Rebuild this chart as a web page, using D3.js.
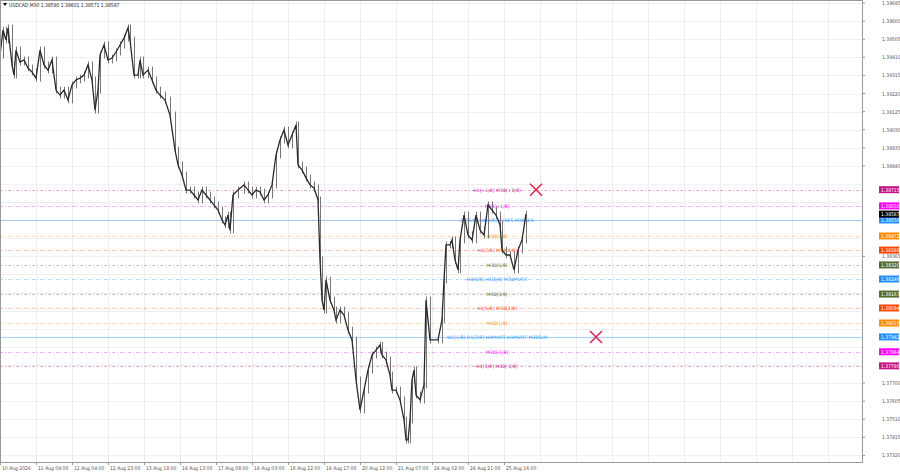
<!DOCTYPE html>
<html><head><meta charset="utf-8">
<script src="https://cdn.jsdelivr.net/npm/d3@7"></script>
<style>body{margin:0;background:#fff;font-family:"Liberation Sans Narrow","DejaVu Sans Condensed",sans-serif}</style>
</head><body><div id="chart"></div>
<script>
// bar position (M30 bars from the left) and close price
const barPos = [0,3,6,8,12,14,16,20,24,28,32,36,40,44,48,52,56,60,64,68,72,76,80,84,88,92,95,98,100,104,108,112,116,120,124,128,130,134,138,140,143,148,152,156,160,165,170,175,178,182,186,190,194,198,202,206,210,214,218,222,225,228,230,233,238,244,248,252,256,260,264,268,272,276,280,284,288,292,296,298,302,306,310,314,318,320,322,324,326,330,334,336,340,344,348,352,356,360,364,368,372,376,380,382,386,390,392,396,400,404,406,408,410,412,414,416,420,424,426,430,438,442,444,446,450,452,455,458,460,464,468,472,476,480,484,488,492,496,500,502,506,510,514,518,522,526];
const closes = [1.39422,1.39553,1.39501,1.39564,1.39370,1.39317,1.39448,1.39385,1.39396,1.39354,1.39333,1.39301,1.39448,1.39370,1.39343,1.39396,1.39238,1.39212,1.39238,1.39186,1.39265,1.39291,1.39301,1.39317,1.39370,1.39291,1.39133,1.39238,1.39422,1.39475,1.39396,1.39406,1.39438,1.39475,1.39511,1.39564,1.39501,1.39317,1.39317,1.39396,1.39317,1.39343,1.39291,1.39238,1.39212,1.39186,1.39107,1.38923,1.38845,1.38792,1.38713,1.38713,1.38687,1.38661,1.38713,1.38687,1.38661,1.38635,1.38608,1.38556,1.38530,1.38582,1.38503,1.38687,1.38713,1.38740,1.38713,1.38687,1.38713,1.38703,1.38661,1.38687,1.38740,1.38897,1.38976,1.39028,1.38950,1.39002,1.39055,1.38845,1.38819,1.38777,1.38740,1.38724,1.38661,1.38346,1.38136,1.38083,1.38241,1.38136,1.38083,1.38031,1.38083,1.38057,1.37978,1.37926,1.37716,1.37559,1.37663,1.37768,1.37847,1.37873,1.37899,1.37847,1.37821,1.37742,1.37663,1.37663,1.37611,1.37506,1.37401,1.37401,1.37506,1.37716,1.37768,1.37637,1.37611,1.37690,1.38136,1.37926,1.37926,1.38031,1.38241,1.38425,1.38425,1.38451,1.38346,1.38294,1.38451,1.38582,1.38477,1.38451,1.38582,1.38503,1.38477,1.38635,1.38608,1.38582,1.38530,1.38398,1.38372,1.38372,1.38294,1.38398,1.38451,1.38587];

const priceTicks = [1.39695,1.39600,1.39505,1.39410,1.39315,1.39220,1.39125,1.39030,1.38935,1.38840,1.38745,1.38650,1.38555,1.38460,1.38365,1.38270,1.38175,1.38080,1.37985,1.37890,1.37795,1.37700,1.37605,1.37510,1.37415,1.37320];
const timeLabels = ["10 Aug 2026","11 Aug 09:00","12 Aug 04:00","12 Aug 23:00","13 Aug 18:00","14 Aug 13:00","17 Aug 08:00","18 Aug 03:00","18 Aug 22:00","19 Aug 17:00","20 Aug 12:00","21 Aug 07:00","24 Aug 02:00","24 Aug 21:00","25 Aug 16:00"];
const timeBars = [0,36,72,108,144,180,216,252,288,324,360,396,432,468,504];

const levelNames = ["H1[+1/8] M30[+2/8]","M30[+1/8]","D1[5/8] H4[8/8] H1RES M30RES","M30[7/8]","H1[7/8] M30[6/8]","M30[5/8]","H4[6/8] H1[6/8] M30PIVOT","M30[3/8]","H1[5/8] M30[2/8]","M30[1/8]","W1[1/8] D1[2/8] H4PIVOT H1PIVOT M30SUP","M30[-1/8]","H1[3/8] M30[-2/8]"];
const levelPrices = [1.38715,1.38630,1.38556,1.38472,1.38398,1.38320,1.38246,1.38167,1.38094,1.38015,1.37942,1.37864,1.37790];
const levelColors = ["#c71585","#ff00ff","#1e90ff","#ff8c00","#ff4500","#556b2f","#1e90ff","#556b2f","#ff4500","#ff8c00","#1e90ff","#ff00ff","#c71585"];
const levelSolid = [false,false,true,false,false,false,false,false,false,false,true,false,false];
const crossPoints = [[536,1.38715],[596,1.37942]];
const lastPrice = 1.38587;

const W = 900, H = 474, plotW = 862, plotH = 462;
const svg = d3.select('#chart').append('svg').attr('width', W).attr('height', H);

const x = d3.scaleLinear().domain([0, plotW]).range([0, plotW]);
const y = d3.scaleLinear().domain([1.37322, 1.39711]).range([455, 0]);

// grid
svg.append('g').selectAll('line').data(priceTicks).enter().append('line')
  .attr('x1', 0).attr('x2', plotW).attr('y1', d => Math.round(y(d)) + .5).attr('y2', d => Math.round(y(d)) + .5)
  .style('stroke', '#efefef').style('stroke-width', 1);
svg.append('g').selectAll('line').data(d3.range(0, plotW, 36)).enter().append('line')
  .attr('x1', d => x(d) + .5).attr('x2', d => x(d) + .5).attr('y1', 0).attr('y2', plotH)
  .style('stroke', '#efefef');

// levels
const lv = svg.append('g');
levelPrices.forEach((p, i) => {
  lv.append('line').attr('x1', 0).attr('x2', plotW)
    .attr('y1', Math.round(y(p)) + .5).attr('y2', Math.round(y(p)) + .5)
    .style('stroke', levelColors[i]).style('opacity', levelSolid[i] ? .4 : .35)
    .style('stroke-dasharray', levelSolid[i] ? null : '3,2,1,2');
  lv.append('text').attr('x', 497).attr('y', y(p) + 2).attr('text-anchor', 'middle')
    .style('font-family', '"DejaVu Sans", sans-serif')
    .style('font-size', '4.6px').style('fill', levelColors[i]).text(levelNames[i]);
});

// candles: open = previous close, thin wicks
const bars = barPos.map((b, i) => ({ b, c: closes[i], o: i ? closes[i - 1] : closes[i] }));
const cg = svg.append('g');
cg.selectAll('line').data(bars).enter().append('line')
  .attr('x1', d => x(d.b) + .5).attr('x2', d => x(d.b) + .5)
  .attr('y1', d => y(Math.max(d.o, d.c) + 0.00018)).attr('y2', d => y(Math.min(d.o, d.c) - 0.00018))
  .style('stroke', '#777').style('stroke-width', 1);
cg.append('path').datum(bars)
  .attr('d', d3.line().x(d => x(d.b)).y(d => y(d.c)))
  .style('fill', 'none').style('stroke', '#2a2a2a').style('stroke-width', 1.3);

// crosses
crossPoints.forEach(([cx, p]) => {
  const s = 6;
  svg.append('path').attr('d', `M${cx - s},${y(p) - s}L${cx + s},${y(p) + s}M${cx + s},${y(p) - s}L${cx - s},${y(p) + s}`)
    .style('stroke', '#e8204f').style('stroke-width', 1.5);
});

// frame
svg.append('rect').attr('x', .5).attr('y', .5).attr('width', plotW).attr('height', plotH)
  .style('fill', 'none').style('stroke', '#999');

// price axis
const boxes = levelPrices.concat([lastPrice]);
const ax = svg.append('g');
priceTicks.forEach(p => {
  if (boxes.some(b => Math.abs(y(b) - y(p)) < 6)) return;
  ax.append('line').attr('x1', plotW).attr('x2', plotW + 3).attr('y1', y(p)).attr('y2', y(p)).style('stroke', '#999');
  ax.append('text').attr('x', 882).attr('y', y(p) + 2).style('font-size', '5px').style('fill', '#555').text(p.toFixed(5));
});
boxes.forEach((p, i) => {
  const col = i < levelColors.length ? levelColors[i] : '#000';
  ax.append('rect').attr('x', 879).attr('y', y(p) - 3.5).attr('width', 20).attr('height', 7).style('fill', col);
  ax.append('text').attr('x', 881).attr('y', y(p) + 2).style('font-size', '5px').style('fill', '#fff').text(p.toFixed(5));
});

// time axis
const tx = svg.append('g');
timeLabels.forEach((t, i) => {
  tx.append('line').attr('x1', x(timeBars[i]) + .5).attr('x2', x(timeBars[i]) + .5).attr('y1', plotH).attr('y2', plotH + 3).style('stroke', '#999');
  tx.append('text').attr('x', x(timeBars[i]) + 2).attr('y', plotH + 8).style('font-size', '5px').style('fill', '#555').text(t);
});

// title
svg.append('path').attr('d', 'M3,3L7,3L5,6Z').style('fill', '#000');
svg.append('text').attr('x', 9).attr('y', 7).style('font-size', '5px').style('fill', '#222')
  .text('USDCAD,M30  1.38580 1.38601 1.38571 1.38587');
</script>
</body></html>
